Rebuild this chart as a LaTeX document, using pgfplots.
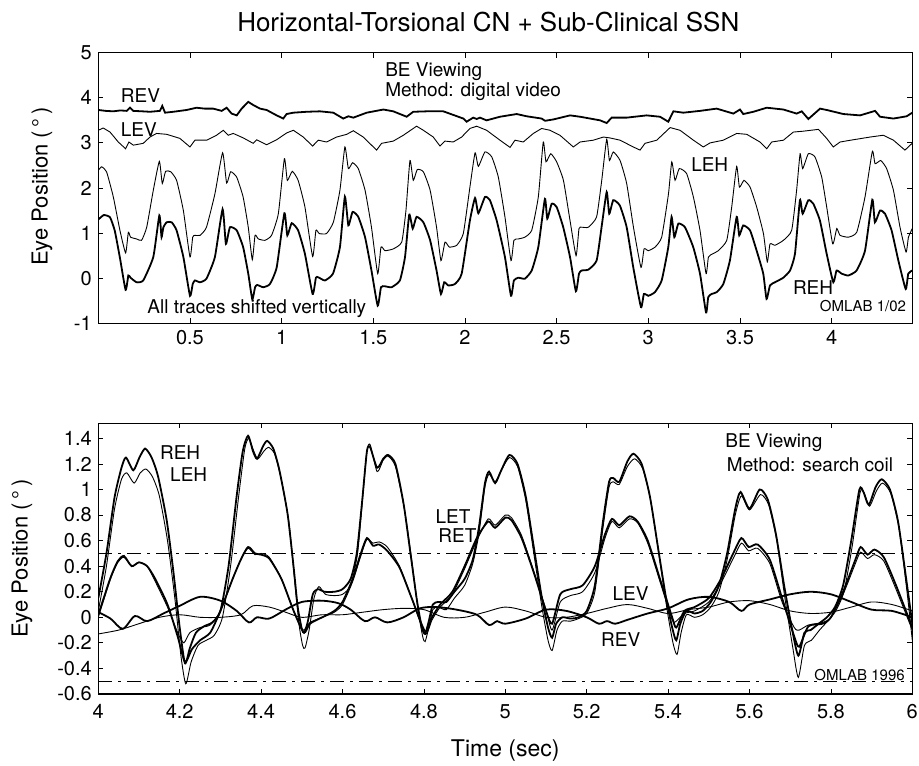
\documentclass[border=0pt]{standalone}
\usepackage{fontspec}
\setmainfont{TeX Gyre Heros}
\usepackage{pgfplots}
\pgfplotsset{compat=1.18}
\newcommand\lab{\fontsize{19}{22}\selectfont}
\newcommand\omfont{\fontsize{15}{18}\selectfont}
\pgfplotsset{
  eyeaxis/.style={
    anchor=south west, scale only axis, width=814pt, height=270.6pt,
    tick align=inside, major tick length=5pt,
    every tick/.style={black, line width=0.8pt},
    axis line style={line width=1.4pt},
    /pgf/number format/assume math mode=true,
    ticklabel style={font=\fontsize{20}{24}\selectfont},
    xticklabel style={yshift=-3pt}, yticklabel style={xshift=-3pt},
    ylabel={Eye Position (\,°\,)},
  },
  bold/.style={black, line width=1.8pt},
  thin/.style={black, line width=0.9pt},
}
\begin{document}
\begin{tikzpicture}
\useasboundingbox (0pt,0pt) rectangle (919pt,766pt);
% ---------------- top axis ----------------
\begin{axis}[eyeaxis, at={(98.3pt,442.7pt)},
  xmin=0, xmax=4.44, ymin=-1, ymax=5,
  xtick={0.5,1,1.5,2,2.5,3,3.5,4}, ytick={-1,0,1,2,3,4,5},
  every axis y label/.style={at={(axis description cs:-0.0692,0.505)}, rotate=90, anchor=center, font=\fontsize{22}{26}\selectfont},
  title={Horizontal-Torsional CN + Sub-Clinical SSN},
  every axis title/.style={at={(axis description cs:0.5,1)}, anchor=center, yshift=30.7pt, xshift=-17pt, font=\fontsize{26}{30}\selectfont},
]
% REH
\addplot[bold, smooth, tension=0.3] coordinates {
(0.000,1.30) (0.030,1.40) (0.064,1.35) (0.090,1.05) (0.118,0.45) (0.149,-0.26) (0.164,0.06) (0.176,0.01) (0.209,-0.09) (0.245,-0.05)
(0.300,0.47) (0.333,1.39) (0.345,0.91) (0.355,1.13) (0.373,1.24) (0.400,1.24) (0.427,1.06) (0.464,0.47) (0.500,-0.39) (0.515,-0.13)
(0.527,-0.05) (0.555,-0.09) (0.590,-0.01) (0.636,0.47) (0.678,1.53) (0.696,0.76) (0.718,1.13) (0.755,1.06) (0.790,0.69) (0.818,0.10)
(0.840,-0.47) (0.855,-0.20) (0.867,-0.15) (0.900,-0.20) (0.936,-0.13) (0.973,0.24) (1.015,1.44) (1.031,0.95) (1.055,1.22) (1.090,1.06)
(1.127,0.54) (1.169,-0.35) (1.187,0.01) (1.200,0.02) (1.236,-0.05) (1.280,0.10) (1.318,0.69) (1.345,1.81) (1.364,1.17) (1.387,1.47)
(1.418,1.36) (1.455,0.91) (1.490,0.17) (1.524,-0.61) (1.542,-0.20) (1.564,-0.18) (1.600,-0.20) (1.645,-0.05) (1.673,0.47) (1.696,1.41)
(1.715,1.10) (1.736,1.36) (1.773,1.24) (1.810,0.84) (1.845,0.17) (1.869,-0.35) (1.887,-0.09) (1.909,-0.16) (1.945,-0.13) (1.982,0.10)
(2.027,1.28) (2.055,1.78) (2.073,1.44) (2.109,1.80) (2.136,1.73) (2.173,1.28) (2.218,0.47) (2.251,-0.39) (2.267,-0.05) (2.291,0.01)
(2.327,-0.01) (2.364,0.17) (2.400,0.69) (2.436,1.76) (2.449,1.32) (2.473,1.65) (2.500,1.58) (2.536,1.13) (2.573,0.47) (2.605,-0.29)
(2.622,0.10) (2.636,0.17) (2.673,0.19) (2.718,0.39) (2.745,1.13) (2.773,1.91) (2.787,1.43) (2.809,1.73) (2.845,1.61) (2.882,1.13)
(2.918,0.24) (2.960,-0.64) (2.976,-0.35) (3.000,-0.39) (3.036,-0.31) (3.073,-0.05) (3.109,0.69) (3.127,1.36) (3.142,0.91) (3.164,1.21)
(3.200,1.13) (3.245,0.69) (3.282,0.10) (3.315,-0.76) (3.327,-0.42) (3.345,-0.35) (3.373,-0.31) (3.409,-0.13) (3.445,0.39) (3.482,1.36)
(3.496,0.95) (3.518,1.17) (3.555,1.06) (3.591,0.61) (3.627,0.10) (3.645,-0.46) (3.664,-0.16) (3.691,-0.09) (3.736,0.01) (3.773,0.17)
(3.800,0.54) (3.827,1.73) (3.842,1.43) (3.873,1.73) (3.900,1.65) (3.936,1.28) (3.973,0.54) (4.009,-0.09) (4.027,0.17) (4.055,0.10)
(4.091,0.06) (4.136,0.17) (4.182,0.61) (4.222,1.74) (4.236,1.24) (4.264,1.50) (4.291,1.43) (4.327,1.06) (4.364,0.39) (4.404,-0.24)
(4.418,0.10) (4.440,0.17)
};
% LEH
\addplot[thin, smooth, tension=0.3] coordinates {
(0.000,2.39) (0.018,2.47) (0.045,2.36) (0.082,1.80) (0.118,1.06) (0.149,0.56) (0.164,1.02) (0.176,0.91) (0.209,0.87) (0.236,0.84)
(0.264,1.13) (0.300,1.95) (0.333,2.59) (0.349,2.10) (0.367,2.37) (0.395,2.36) (0.427,2.17) (0.464,1.50) (0.500,0.47) (0.515,0.91)
(0.527,0.95) (0.555,0.95) (0.590,1.13) (0.636,1.87) (0.678,2.78) (0.700,2.11) (0.722,2.36) (0.755,2.24) (0.790,1.80) (0.818,1.13)
(0.840,0.41) (0.855,0.95) (0.873,0.87) (0.909,0.84) (0.945,0.95) (0.982,1.43) (1.015,2.65) (1.031,2.17) (1.058,2.37) (1.090,2.17)
(1.127,1.58) (1.169,0.48) (1.187,1.06) (1.205,0.99) (1.245,0.99) (1.282,1.24) (1.318,1.95) (1.345,2.91) (1.364,2.43) (1.387,2.56)
(1.418,2.43) (1.455,1.95) (1.490,1.13) (1.524,0.10) (1.542,0.69) (1.564,0.61) (1.609,0.65) (1.655,0.80) (1.678,1.50) (1.700,2.61)
(1.718,2.17) (1.740,2.41) (1.773,2.36) (1.810,1.95) (1.845,1.13) (1.869,0.39) (1.891,0.80) (1.915,0.69) (1.955,0.73) (1.991,0.99)
(2.027,2.02) (2.055,2.78) (2.073,2.48) (2.109,2.80) (2.146,2.69) (2.182,2.24) (2.218,1.36) (2.251,0.39) (2.267,0.84) (2.291,0.87)
(2.327,0.91) (2.364,1.06) (2.400,1.80) (2.427,3.02) (2.442,2.58) (2.468,2.76) (2.500,2.58) (2.537,2.17) (2.573,1.28) (2.606,0.50)
(2.622,1.10) (2.637,1.13) (2.673,1.13) (2.718,1.36) (2.746,2.17) (2.773,3.08) (2.788,2.61) (2.809,2.80) (2.846,2.61) (2.882,2.10)
(2.919,1.13) (2.960,0.24) (2.977,0.65) (3.000,0.61) (3.037,0.69) (3.073,0.91) (3.110,1.87) (3.128,2.58) (3.146,2.17) (3.169,2.43)
(3.209,2.32) (3.246,1.80) (3.282,1.06) (3.315,0.10) (3.328,0.47) (3.351,0.54) (3.382,0.61) (3.428,0.84) (3.455,1.58) (3.482,2.48)
(3.497,2.02) (3.522,2.17) (3.555,2.02) (3.591,1.58) (3.628,0.99) (3.649,0.36) (3.664,0.76) (3.691,0.73) (3.737,0.84) (3.782,1.06)
(3.809,1.95) (3.828,2.76) (3.842,2.43) (3.873,2.76) (3.909,2.69) (3.946,2.24) (3.973,1.58) (4.006,0.76) (4.028,1.10) (4.046,0.95)
(4.091,0.91) (4.137,1.02) (4.182,1.80) (4.222,2.81) (4.237,2.54) (4.268,2.61) (4.300,2.43) (4.337,1.95) (4.373,1.13) (4.406,0.58)
(4.419,0.91) (4.440,1.10)
};
% REV
\addplot[bold] coordinates {
(0.000,3.73) (0.040,3.71) (0.082,3.70) (0.120,3.72) (0.155,3.71) (0.173,3.78) (0.191,3.71) (0.240,3.70) (0.282,3.69) (0.336,3.71)
(0.349,3.82) (0.364,3.67) (0.409,3.69) (0.482,3.73) (0.536,3.78) (0.580,3.76) (0.627,3.76) (0.673,3.71) (0.700,3.78) (0.727,3.65)
(0.755,3.61) (0.782,3.76) (0.818,3.91) (0.845,3.84) (0.882,3.76) (0.918,3.73) (0.973,3.61) (1.009,3.54) (1.027,3.64) (1.064,3.67)
(1.136,3.69) (1.209,3.70) (1.282,3.67) (1.336,3.54) (1.364,3.59) (1.391,3.56) (1.464,3.67) (1.555,3.74) (1.609,3.70) (1.682,3.58)
(1.718,3.69) (1.791,3.70) (1.882,3.70) (1.991,3.54) (2.009,3.47) (2.045,3.56) (2.064,3.53) (2.082,3.56) (2.118,3.50) (2.191,3.58)
(2.282,3.64) (2.337,3.59) (2.418,3.54) (2.437,3.49) (2.482,3.52) (2.573,3.61) (2.628,3.58) (2.737,3.50) (2.773,3.44) (2.800,3.56)
(2.882,3.56) (2.991,3.61) (3.064,3.58) (3.109,3.47) (3.137,3.70) (3.191,3.67) (3.282,3.71) (3.373,3.76) (3.464,3.65) (3.500,3.74)
(3.518,3.64) (3.573,3.69) (3.646,3.78) (3.737,3.74) (3.809,3.65) (3.837,3.70) (3.873,3.53) (3.937,3.76) (3.973,3.73) (4.064,3.64)
(4.155,3.61) (4.237,3.71) (4.264,3.58) (4.337,3.54) (4.409,3.59) (4.440,3.67)
};
% LEV
\addplot[thin] coordinates {
(0.000,3.28) (0.027,3.33) (0.064,3.24) (0.109,3.02) (0.149,2.87) (0.167,3.02) (0.191,2.95) (0.245,2.99) (0.282,3.13) (0.318,3.21)
(0.373,3.19) (0.445,3.10) (0.500,2.91) (0.527,3.06) (0.591,3.06) (0.645,3.17) (0.682,3.28) (0.709,3.17) (0.736,3.21) (0.791,3.11)
(0.845,2.99) (0.864,3.07) (0.918,2.96) (0.973,3.07) (1.027,3.22) (1.064,3.28) (1.118,3.13) (1.169,2.93) (1.200,3.06) (1.245,3.02)
(1.300,3.13) (1.355,3.19) (1.391,3.27) (1.445,3.13) (1.518,2.84) (1.545,2.99) (1.609,3.04) (1.664,3.17) (1.736,3.37) (1.773,3.28)
(1.827,3.13) (1.864,2.93) (1.891,3.04) (1.936,3.02) (1.982,3.13) (2.027,3.32) (2.064,3.37) (2.118,3.28) (2.191,3.06) (2.246,2.90)
(2.273,3.06) (2.318,3.02) (2.373,3.21) (2.418,3.32) (2.464,3.28) (2.518,3.17) (2.591,2.91) (2.628,3.02) (2.700,3.06) (2.755,3.13)
(2.791,3.11) (2.846,3.06) (2.918,2.91) (2.955,2.84) (2.982,2.99) (3.046,3.06) (3.119,3.34) (3.173,3.28) (3.246,3.06) (3.300,2.91)
(3.337,3.00) (3.409,3.06) (3.482,3.21) (3.537,3.19) (3.609,3.02) (3.646,2.87) (3.673,3.02) (3.737,3.06) (3.791,3.24) (3.846,3.26)
(3.928,3.30) (3.973,3.10) (4.009,2.91) (4.046,3.02) (4.119,3.07) (4.210,3.13) (4.282,3.17) (4.337,3.06) (4.400,2.84) (4.428,2.95)
(4.440,2.99)
};
\node[anchor=west, font=\lab] at (axis cs:0.104,4.06) {REV};
\node[anchor=west, font=\lab] at (axis cs:0.104,3.30) {LEV};
\node[anchor=west, font=\lab] at (axis cs:1.546,4.58) {BE Viewing};
\node[anchor=west, font=\lab] at (axis cs:1.546,4.13) {Method: digital video};
\node[anchor=west, font=\lab] at (axis cs:0.249,-0.67) {All traces shifted vertically};
\node[anchor=west, font=\lab] at (axis cs:3.215,2.53) {LEH};
\node[anchor=west, font=\lab] at (axis cs:3.770,-0.20) {REH};
\node[anchor=east, font=\omfont] at (axis cs:4.425,-0.62) {OMLAB 1/02};
\end{axis}
% ---------------- bottom axis ----------------
\begin{axis}[eyeaxis, at={(98.3pt,72pt)},
  xmin=4, xmax=6, ymin=-0.6, ymax=1.517,
  xtick={4,4.2,4.4,4.6,4.8,5,5.2,5.4,5.6,5.8,6},
  ytick={-0.6,-0.4,-0.2,0,0.2,0.4,0.6,0.8,1,1.2,1.4},
  xticklabel style={yshift=-4pt},
  every axis y label/.style={at={(axis description cs:-0.0937,0.5)}, rotate=90, anchor=center, font=\fontsize{22}{26}\selectfont},
  xlabel={Time (sec)},
  every axis x label/.style={at={(axis description cs:0.5,0)}, anchor=center, yshift=-57pt, font=\fontsize{23}{27}\selectfont},
]
\addplot[black, line width=0.9pt, dash pattern=on 14pt off 6pt on 3pt off 6pt] coordinates {(4,0.5) (6,0.5)};
\addplot[black, line width=0.9pt, dash pattern=on 14pt off 6pt on 3pt off 6pt] coordinates {(4,-0.5) (6,-0.5)};
% REH
\addplot[bold, smooth, tension=0.4] coordinates {
(4.000,0.15) (4.020,0.50) (4.040,0.94) (4.057,1.17) (4.068,1.25) (4.086,1.15) (4.101,1.25) (4.115,1.32) (4.131,1.25) (4.147,1.10)
(4.168,0.76) (4.184,0.37) (4.200,-0.08) (4.213,-0.36) (4.225,-0.24) (4.240,-0.12) (4.260,-0.07) (4.280,-0.04) (4.300,0.05) (4.320,0.40)
(4.340,0.95) (4.355,1.30) (4.368,1.42) (4.380,1.30) (4.390,1.24) (4.405,1.34) (4.415,1.38) (4.430,1.32) (4.445,1.15) (4.465,0.81)
(4.480,0.39) (4.490,0.08) (4.500,-0.09) (4.506,-0.12) (4.515,-0.03) (4.527,0.18) (4.540,0.22) (4.555,0.20) (4.580,0.20) (4.600,0.22)
(4.620,0.30) (4.635,0.50) (4.648,0.90) (4.660,1.30) (4.668,1.33) (4.685,1.17) (4.700,1.24) (4.712,1.27) (4.730,1.20) (4.750,0.89)
(4.767,0.50) (4.783,0.13) (4.795,-0.08) (4.803,-0.13) (4.812,-0.03) (4.822,0.10) (4.835,0.12) (4.855,0.12) (4.875,0.20) (4.900,0.30)
(4.920,0.45) (4.935,0.70) (4.950,1.05) (4.960,1.14) (4.975,1.05) (4.990,1.15) (5.010,1.27) (5.030,1.20) (5.050,0.95) (5.070,0.55)
(5.090,0.15) (5.105,-0.08) (5.115,-0.16) (5.125,-0.05) (5.140,0.00) (5.160,-0.01) (5.180,0.00) (5.200,0.05) (5.220,0.25) (5.240,0.75)
(5.255,1.06) (5.265,1.09) (5.280,1.06) (5.300,1.22) (5.315,1.28) (5.335,1.20) (5.355,0.95) (5.375,0.55) (5.395,0.15) (5.410,-0.08)
(5.420,-0.18) (5.430,-0.05) (5.445,0.05) (5.465,0.03) (5.485,0.05) (5.505,0.12) (5.525,0.25) (5.545,0.50) (5.565,0.85) (5.578,0.98)
(5.600,0.85) (5.625,1.00) (5.645,0.92) (5.665,0.65) (5.685,0.25) (5.705,-0.10) (5.720,-0.30) (5.735,-0.12) (5.750,-0.10) (5.770,-0.05)
(5.790,0.00) (5.810,0.08) (5.830,0.25) (5.850,0.60) (5.870,1.00) (5.880,0.98) (5.893,0.88) (5.910,1.02) (5.925,1.08) (5.945,1.00)
(5.965,0.75) (5.985,0.30) (6.000,-0.05)
};
% LEH
\addplot[thin, smooth, tension=0.4] coordinates {
(4.000,0.05) (4.020,0.40) (4.040,0.85) (4.057,1.08) (4.070,1.13) (4.088,1.05) (4.103,1.13) (4.117,1.16) (4.133,1.10) (4.150,0.95)
(4.170,0.60) (4.188,0.15) (4.203,-0.30) (4.215,-0.52) (4.228,-0.35) (4.245,-0.22) (4.265,-0.18) (4.285,-0.14) (4.305,0.00) (4.325,0.40)
(4.345,0.95) (4.360,1.32) (4.370,1.40) (4.382,1.30) (4.392,1.24) (4.407,1.30) (4.418,1.33) (4.433,1.28) (4.448,1.10) (4.468,0.75)
(4.482,0.30) (4.493,-0.05) (4.502,-0.22) (4.508,-0.24) (4.518,-0.10) (4.530,0.15) (4.542,0.24) (4.558,0.18) (4.580,0.17) (4.600,0.18)
(4.620,0.25) (4.637,0.50) (4.650,0.95) (4.660,1.30) (4.668,1.35) (4.685,1.14) (4.700,1.23) (4.712,1.26) (4.730,1.18) (4.752,0.85)
(4.770,0.45) (4.786,0.05) (4.797,-0.15) (4.803,-0.19) (4.812,-0.08) (4.822,0.06) (4.835,0.08) (4.855,0.06) (4.875,0.15) (4.900,0.25)
(4.920,0.42) (4.935,0.65) (4.950,1.02) (4.960,1.12) (4.975,1.06) (4.990,1.15) (5.010,1.25) (5.030,1.18) (5.050,0.92) (5.070,0.50)
(5.090,0.08) (5.105,-0.18) (5.115,-0.26) (5.127,-0.10) (5.140,-0.03) (5.160,-0.03) (5.180,-0.01) (5.200,0.03) (5.220,0.20) (5.240,0.70)
(5.255,1.02) (5.265,1.06) (5.280,1.04) (5.300,1.18) (5.318,1.24) (5.338,1.16) (5.358,0.90) (5.378,0.48) (5.398,0.05) (5.412,-0.20)
(5.422,-0.29) (5.432,-0.12) (5.445,0.02) (5.465,0.00) (5.485,0.02) (5.505,0.08) (5.525,0.20) (5.545,0.45) (5.565,0.80) (5.580,0.95)
(5.600,0.84) (5.627,0.96) (5.647,0.88) (5.667,0.60) (5.687,0.15) (5.707,-0.25) (5.720,-0.47) (5.735,-0.22) (5.752,-0.18) (5.772,-0.10)
(5.792,-0.03) (5.812,0.05) (5.832,0.20) (5.852,0.55) (5.872,0.98) (5.882,0.97) (5.895,0.87) (5.912,0.99) (5.927,1.05) (5.947,0.97)
(5.967,0.70) (5.987,0.20) (6.000,-0.18)
};
% RET
\addplot[bold, smooth, tension=0.4] coordinates {
(4.000,0.02) (4.030,0.31) (4.048,0.44) (4.063,0.48) (4.082,0.40) (4.100,0.43) (4.120,0.40) (4.140,0.30) (4.170,0.10) (4.195,-0.15)
(4.213,-0.35) (4.230,-0.25) (4.250,-0.18) (4.275,-0.12) (4.300,0.05) (4.330,0.30) (4.350,0.45) (4.368,0.55) (4.385,0.50) (4.400,0.49)
(4.420,0.46) (4.450,0.30) (4.480,0.05) (4.505,-0.12) (4.520,-0.05) (4.550,0.00) (4.580,0.05) (4.600,0.12) (4.625,0.30) (4.645,0.50)
(4.660,0.62) (4.675,0.56) (4.690,0.57) (4.710,0.52) (4.740,0.39) (4.770,0.15) (4.803,-0.11) (4.820,0.00) (4.840,0.10) (4.870,0.20)
(4.900,0.40) (4.930,0.62) (4.958,0.75) (4.975,0.70) (5.000,0.78) (5.015,0.76) (5.040,0.62) (5.070,0.35) (5.100,0.05) (5.115,-0.05)
(5.135,0.18) (5.160,0.22) (5.190,0.25) (5.220,0.40) (5.245,0.65) (5.262,0.77) (5.280,0.72) (5.305,0.79) (5.325,0.75) (5.350,0.60)
(5.380,0.30) (5.410,0.00) (5.420,-0.08) (5.440,0.05) (5.465,0.08) (5.500,0.15) (5.530,0.30) (5.560,0.50) (5.580,0.62) (5.598,0.55)
(5.620,0.57) (5.650,0.45) (5.680,0.15) (5.710,-0.15) (5.722,-0.23) (5.745,-0.07) (5.780,-0.05) (5.800,0.00) (5.830,0.20) (5.860,0.45)
(5.873,0.55) (5.890,0.49) (5.907,0.53) (5.930,0.47) (5.960,0.25) (6.000,-0.08)
};
% LET
\addplot[thin, smooth, tension=0.4] coordinates {
(4.000,0.00) (4.030,0.30) (4.048,0.43) (4.063,0.47) (4.082,0.40) (4.100,0.43) (4.120,0.40) (4.140,0.28) (4.170,0.08) (4.195,-0.12)
(4.210,-0.20) (4.225,-0.12) (4.250,-0.08) (4.275,-0.06) (4.300,0.05) (4.330,0.30) (4.350,0.45) (4.368,0.54) (4.385,0.49) (4.400,0.50)
(4.420,0.47) (4.450,0.30) (4.480,0.05) (4.503,-0.10) (4.520,-0.04) (4.550,0.00) (4.580,0.04) (4.600,0.10) (4.625,0.28) (4.645,0.48)
(4.660,0.61) (4.675,0.58) (4.690,0.59) (4.710,0.55) (4.740,0.40) (4.770,0.15) (4.803,-0.13) (4.820,-0.02) (4.840,0.08) (4.870,0.18)
(4.900,0.38) (4.930,0.60) (4.958,0.77) (4.975,0.72) (5.000,0.80) (5.015,0.78) (5.040,0.64) (5.070,0.36) (5.100,0.06) (5.115,-0.10)
(5.135,0.12) (5.160,0.17) (5.190,0.20) (5.220,0.35) (5.245,0.62) (5.262,0.75) (5.280,0.70) (5.305,0.77) (5.325,0.74) (5.350,0.58)
(5.380,0.28) (5.410,-0.02) (5.420,-0.03) (5.440,0.03) (5.465,0.05) (5.500,0.12) (5.530,0.27) (5.560,0.46) (5.580,0.58) (5.598,0.52)
(5.620,0.54) (5.650,0.42) (5.680,0.12) (5.710,-0.08) (5.722,-0.10) (5.745,-0.06) (5.780,-0.04) (5.800,0.00) (5.830,0.18) (5.860,0.42)
(5.873,0.51) (5.890,0.46) (5.907,0.49) (5.930,0.44) (5.960,0.22) (6.000,-0.10)
};
% REV
\addplot[bold, smooth, tension=0.5] coordinates {
(4.000,0.04) (4.030,-0.01) (4.060,-0.09) (4.090,0.01) (4.120,-0.03) (4.160,0.03) (4.200,0.09) (4.250,0.16) (4.300,0.13) (4.340,0.05)
(4.370,-0.04) (4.390,0.00) (4.420,-0.01) (4.460,0.06) (4.500,0.12) (4.550,0.13) (4.590,0.11) (4.620,0.06) (4.655,-0.03) (4.680,0.00)
(4.710,-0.04) (4.750,0.00) (4.790,0.07) (4.830,0.08) (4.880,0.06) (4.930,0.02) (4.960,-0.06) (4.980,-0.03) (5.000,-0.05) (5.050,-0.01)
(5.100,0.06) (5.150,0.05) (5.200,0.00) (5.230,-0.05) (5.250,-0.03) (5.270,-0.05) (5.300,-0.02) (5.350,0.03) (5.400,0.07) (5.450,0.14)
(5.500,0.16) (5.550,0.12) (5.580,0.05) (5.600,0.10) (5.650,0.14) (5.700,0.18) (5.750,0.20) (5.800,0.18) (5.850,0.12) (5.900,0.06)
(5.950,0.05) (6.000,0.00)
};
% LEV
\addplot[thin, smooth, tension=0.5] coordinates {
(4.000,-0.13) (4.050,-0.10) (4.100,-0.05) (4.150,0.00) (4.200,0.02) (4.250,0.00) (4.300,0.00) (4.350,0.02) (4.380,0.09) (4.420,0.08)
(4.460,0.04) (4.500,0.00) (4.550,0.02) (4.600,0.02) (4.650,0.04) (4.700,0.06) (4.750,0.07) (4.800,0.06) (4.850,0.00) (4.900,0.00)
(4.950,0.04) (5.000,0.08) (5.050,0.05) (5.100,0.00) (5.150,0.00) (5.200,0.03) (5.250,0.07) (5.300,0.10) (5.350,0.07) (5.400,0.03)
(5.450,0.06) (5.500,0.08) (5.550,0.12) (5.600,0.13) (5.650,0.10) (5.700,0.05) (5.750,0.03) (5.800,0.04) (5.850,0.08) (5.900,0.12)
(5.950,0.10) (6.000,0.05)
};
\node[anchor=west, font=\lab] at (axis cs:4.143,1.29) {REH};
\node[anchor=west, font=\lab] at (axis cs:4.168,1.12) {LEH};
\node[anchor=west, font=\lab] at (axis cs:4.820,0.787) {LET};
\node[anchor=west, font=\lab] at (axis cs:4.827,0.643) {RET};
\node[anchor=west, font=\lab] at (axis cs:5.255,0.187) {LEV};
\node[anchor=west, font=\lab] at (axis cs:5.227,-0.178) {REV};
\node[anchor=west, font=\lab] at (axis cs:5.532,1.366) {BE Viewing};
\node[anchor=west, font=\lab] at (axis cs:5.536,1.197) {Method: search coil};
\node[anchor=east, font=\omfont] at (axis cs:5.990,-0.45) {OMLAB 1996};
\end{axis}
\end{tikzpicture}
\end{document}
